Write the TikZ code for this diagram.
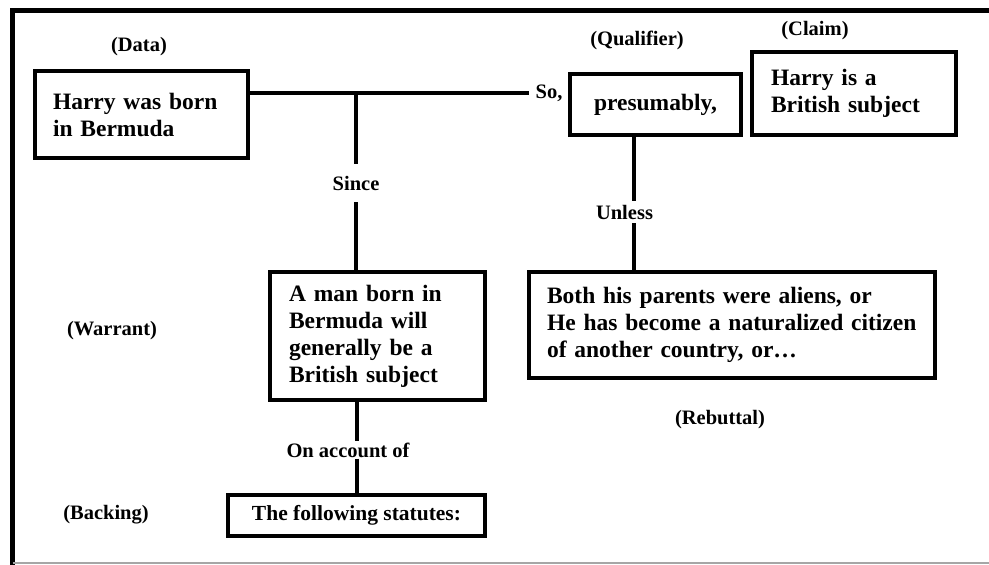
\documentclass[tikz,border=0pt]{standalone}
\usepackage{fontspec}
\setmainfont{Liberation Serif}
\usetikzlibrary{positioning,calc}

\begin{document}
\begin{tikzpicture}[x=1pt,y=-1pt]
		\tikzset{box/.style={draw, line width=4pt, align=left, inner ysep=0pt, font=\fontsize{23.5}{27}\selectfont\bfseries},
			lbl/.style={inner sep=3pt, font=\fontsize{20.5}{24}\selectfont\bfseries},
			conn/.style={line width=4pt}}
		\useasboundingbox (0,0) rectangle (989,565);
		%\draw[step=50pt,gray,very thin] (0,0) grid (989,565);
		\draw[line width=5pt] (989,10.5) -- (12.5,10.5) -- (12.5,565);
		\draw[gray!70, line width=1.2pt] (12.5,563) -- (989,563);
		\node[box, inner xsep=18pt, text width=177pt, minimum height=87pt] (data) at (141.5,114.5) {Harry was born\\in Bermuda};
		\node[box, align=center, minimum width=171pt, minimum height=61pt] (qualifier) at (655.5,104.5) {presumably,};
		\node[box, inner xsep=19pt, text width=166pt, minimum height=83pt] (claim) at (854,93.5) {Harry is a\\British subject};
		\node[box, inner xsep=19pt, text width=177pt, minimum height=128pt] (warrant) at (377.5,336) {A man born in\\Bermuda will\\generally be a\\British subject};
		\node[box, font=\fontsize{21.5}{26}\selectfont\bfseries, minimum width=257pt, minimum height=41pt] (backing) at (356.5,515.5) {The following statutes:};
		\node[box, inner xsep=18pt, text width=370pt, minimum height=106pt] (rebuttal) at (732,325) {Both his parents were aliens, or\\He has become a naturalized citizen\\of another country, or…};
		\node[lbl] (datalbl) at (139,47) {(Data)};
		\node[lbl] (qualilbl) at (637,40) {(Qualifier)};
		\node[lbl] (claimlbl) at (815,31) {(Claim)};
		\node[lbl] (warrlbl) at (112,331) {(Warrant)};
		\node[lbl] (backlbl) at (106,515) {(Backing)};
		\node[lbl] (rebutlbl) at (720,420) {(Rebuttal)};
		\node[lbl, inner sep=6pt] (so) at (549,93) {So,};
		\node[lbl, inner xsep=3pt, inner ysep=12pt] (since) at (356,183) {Since};
		\node[lbl, inner sep=4pt] (unless) at (624.5,212) {Unless};
		\node[lbl, inner sep=1pt] (account) at (348,450) {On account of};
		\coordinate (qfoot) at (634,0);
		\draw[conn] (so.west -| data.east) -- (so.west);
		\draw[conn] (since |- so) -- (since);
		\draw[conn] (since) -- (since |- warrant.north);
		\draw[conn] (backing.north |- warrant.south) -- (backing.north |- account.north);
		\draw[conn] (backing.north |- account.south) -- (backing.north);
		\draw[conn] (qfoot |- qualifier.south) -- (qfoot |- unless.north);
		\draw[conn] (qfoot |- unless.south) -- (qfoot |- rebuttal.north);
	\end{tikzpicture}
\end{document}
